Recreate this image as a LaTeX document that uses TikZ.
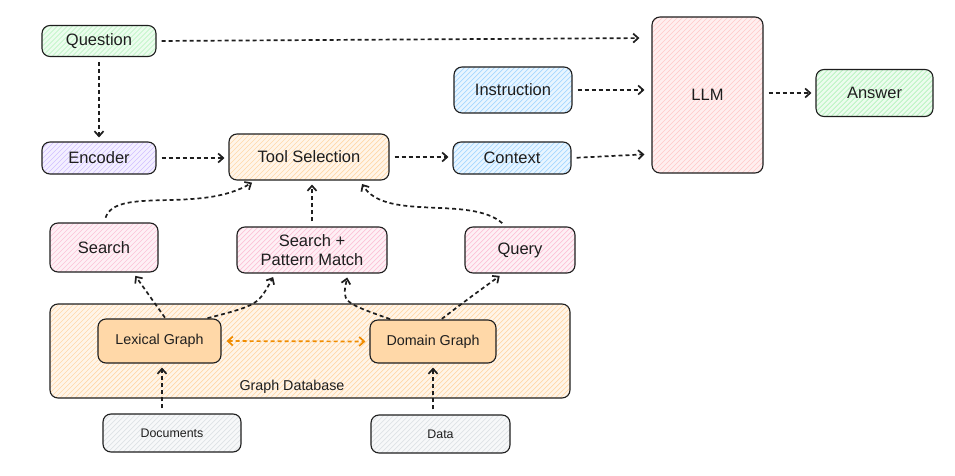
\documentclass[tikz,border=0pt]{standalone}
\usepackage{fontspec}
\setmainfont{Liberation Sans}
\usepackage{tikz}
\usetikzlibrary{arrows.meta,positioning,calc}

\definecolor{ink}{HTML}{1E1E1E}
\definecolor{xgreen}{HTML}{B2F2BB}
\definecolor{xviolet}{HTML}{D0BFFF}
\definecolor{xorange}{HTML}{FFD8A8}
\definecolor{xblue}{HTML}{A5D8FF}
\definecolor{xred}{HTML}{FFC9C9}
\definecolor{xpink}{HTML}{FCC2D7}
\definecolor{xgray}{HTML}{DEE2E6}
\definecolor{xamber}{HTML}{F08C00}

\begin{document}
\begin{tikzpicture}[x=1pt, y=-1pt,
	every node/.style = {shape=rectangle, rounded corners=8pt, draw=ink, line width=1.1pt, align=center, text=ink, inner sep=0pt, font=\fontsize{16.5}{19}\selectfont}]
			\tikzset{
				hatch/.style n args={3}{
					minimum width=#2, minimum height=#3,
					fill=#1!25,
					path picture={
						\foreach \k in {0,5,...,720}
							\draw[#1, line width=0.7pt]
								($(path picture bounding box.south west)+(\k pt-200pt,0)$) -- ++(200pt,200pt);
					}
				}
			}
			\tikzset{ cross/.style = {
					fill=xred!30,
					path picture={
						\foreach \k in {0,5,...,400} {
							\draw[xred, line width=0.6pt]
								($(path picture bounding box.south west)+(\k pt-200pt,0)$) -- ++(200pt,200pt);
							\draw[xred, line width=0.6pt]
								($(path picture bounding box.south west)+(\k pt-200pt,0)$) -- ++(200pt,-200pt);
						}
					}
				}
			}
			\tikzset{ graphbox/.style = { fill=xorange, font=\fontsize{14.3}{17}\selectfont } }
			\tikzset{ srcbox/.style = { font=\fontsize{12.4}{15}\selectfont } }
			\tikzset{ flow/.style = { draw=ink, line width=1.7pt, dash pattern=on 4pt off 3pt, -{Straight Barb[length=5pt,width=9pt]}, shorten <=5pt, shorten >=4pt } }
			\tikzset{ link/.style = { flow, draw=xamber, {Straight Barb[length=5pt,width=9pt]}-{Straight Barb[length=5pt,width=9pt]} } }

			\useasboundingbox (0,0) rectangle (955,476);

			% input side
			\node [hatch={xgreen}{114pt}{31pt}] (question) at (99,41) {Question};
			\node [hatch={xviolet}{114pt}{32pt}] (encoder) at (99,158) {Encoder};
			\node [hatch={xorange}{160pt}{46pt}] (toolsel) at (309,157) {Tool Selection};
			\node [hatch={xblue}{118pt}{46pt}] (instruction) at (513,90) {Instruction};
			\node [hatch={xblue}{118pt}{32pt}] (context) at (512,158) {Context};
			\node [cross, minimum width=111pt, minimum height=156pt] (llm) at (707.5,95) {LLM};
			\node [hatch={xgreen}{117pt}{47pt}] (answer) at (874.5,93) {Answer};

			% tools
			\node [hatch={xpink}{108pt}{49pt}] (search) at (104,247.5) {Search};
			\node [hatch={xpink}{150pt}{46pt}] (spm) at (312,250) {Search +\\Pattern Match};
			\node [hatch={xpink}{110pt}{46pt}] (query) at (520,250) {Query};

			% database
			\node [hatch={xorange}{520pt}{94pt}] (gdb) at (310,351) {};
			\node [draw=none, fill=none, font=\fontsize{14.3}{17}\selectfont] (gdblabel) at (292,387) {Graph Database};
			\node [graphbox, minimum width=123pt, minimum height=44pt] (lexical) at (159.5,341) {Lexical Graph};
			\node [graphbox, minimum width=126pt, minimum height=43pt] (domain) at (433,341.5) {Domain Graph};
			\node [hatch={xgray}{138pt}{38pt}, srcbox] (documents) at (172,433) {Documents};
			\node [hatch={xgray}{139pt}{38pt}, srcbox] (data) at (440.5,434) {Data};

			% connectors
			\draw [flow, shorten >=12pt] (question.east) -- ([yshift=3pt]question.east -| llm.west);
			\draw [flow] (question.south) -- (encoder.north);
			\draw [flow] (encoder.east) -- (encoder.east -| toolsel.west);
			\draw [flow] (toolsel.east) -- (toolsel.east -| context.west);
			\draw [flow, shorten >=7pt] (instruction.east) -- (instruction.east -| llm.west);
			\draw [flow, shorten >=7pt] (context.east) -- ([yshift=4pt]context.east -| llm.west);
			\draw [flow] (llm.east |- answer.west) -- (answer.west);

			\draw [flow] (search.north) .. controls (116,186) and (200,214) .. ([xshift=27pt]toolsel.south west);
			\draw [flow] (spm.north) -- (spm.north |- toolsel.south);
			\draw [flow] ([xshift=-14pt]query.north) .. controls (470,195) and (385,222) .. ([xshift=51pt]toolsel.south);

			\draw [flow, shorten <=1pt] ([xshift=6pt]lexical.north) -- ([xshift=29pt]search.south);
			\draw [flow, shorten <=1pt] ([xshift=47pt]lexical.north) .. controls (258,305) .. ([xshift=-37pt]spm.south);
			\draw [flow, shorten <=1pt] ([xshift=-42pt]domain.north) .. controls (342,302) .. ([xshift=36pt]spm.south);
			\draw [flow, shorten <=1pt] ([xshift=8pt]domain.north) .. controls (472,296) .. ([xshift=-17pt]query.south);

			\draw [link] (lexical.east) -- (domain.west);
			\draw [flow] ([xshift=2.5pt]lexical.south |- documents.north) -- ([xshift=2.5pt]lexical.south);
			\draw [flow] (domain.south |- data.north) -- (domain.south);
		\end{tikzpicture}
\end{document}
